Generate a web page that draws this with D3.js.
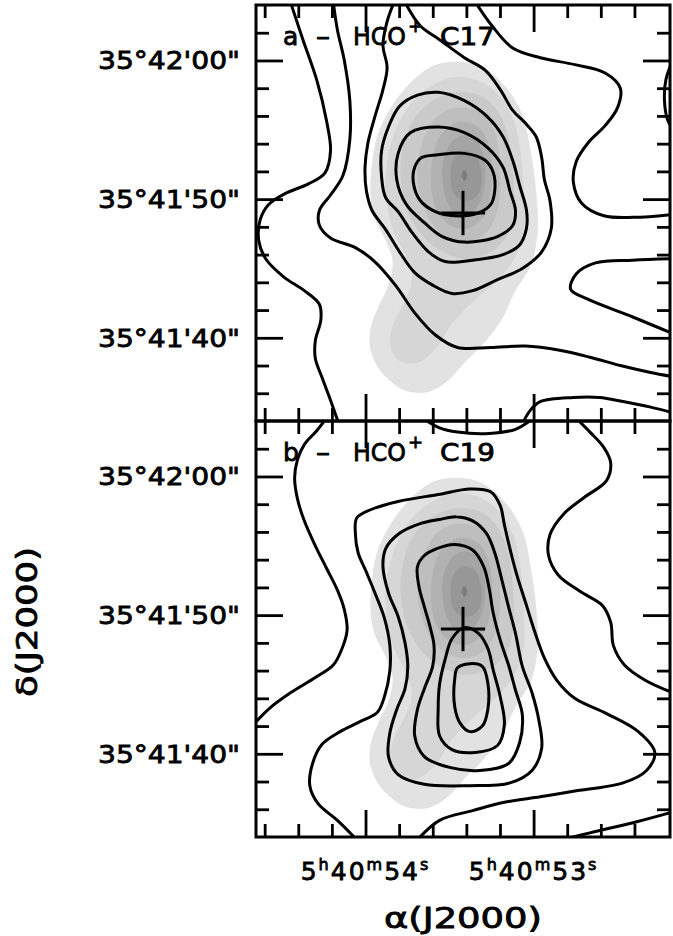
<!DOCTYPE html>
<html>
<head>
<meta charset="utf-8">
<script src="https://cdn.jsdelivr.net/npm/d3@7"></script>
<style>
  body { margin: 0; background: #fff; }
  svg text { font-family: "DejaVu Sans", sans-serif; fill: #000; stroke: #000; stroke-width: 0.8; }
</style>
</head>
<body>
<div id="chart"></div>
<script>
// all map points are arcsec offsets: x east of 5h40m53.42s, y north of 35d41m50s
var raCenterSec = 53.42;
var arcsecPerSec = 12.18;   // 15" * cos(dec)

var raMajor = [54, 53];
var raMinor = [54.6, 54.4, 54.2, 53.8, 53.6, 53.4, 53.2, 52.8, 52.6, 52.4];
var raLabels = [["5", "h", "40", "m", "54", "s"], ["5", "h", "40", "m", "53", "s"]];
var decMajor = [10, 0, -10];
var decMinor = [12, 8, 6, 4, 2, -2, -4, -6, -8, -12, -14];
var decLabels = ["35°42'00\"", "35°41'50\"", "35°41'40\""];
var panelNames = ["a", "b"];
var panelLines = ["C17", "C19"];
var crossPos = [0, -1.0];
var crossArm = 1.6;

// grey image (same in both panels), lowest level first
var greyL1 = [[0.8,9.9],[-1.2,9.6],[-3.0,8.2],[-4.3,6.1],[-4.9,3.5],[-5.3,0.6],[-5.4,-2.5],[-4.9,-4.8],[-3.8,-6.6],[-2.8,-8.7],[-1.5,-10.4],[-0.1,-11.8],[1.1,-13.1],[2.5,-13.9],[4.2,-13.8],[5.9,-12.5],[6.7,-10.9],[6.7,-9.3],[6.2,-7.9],[5.4,-6.2],[5.1,-4.5],[5.6,-3.0],[6.4,-1.4],[6.7,0.3],[6.6,2.5],[6.2,4.6],[5.1,6.8],[3.8,8.4],[2.4,9.5]];
var greyL2 = [[0.6,8.8],[-1.2,8.5],[-2.7,7.4],[-3.7,5.6],[-4.2,3.2],[-4.4,0.3],[-4.4,-2.4],[-3.6,-4.5],[-2.1,-6.2],[-0.5,-7.6],[0.9,-9.1],[1.9,-10.7],[3.3,-11.8],[4.7,-11.6],[5.3,-10.4],[5.0,-8.9],[4.2,-7.3],[3.7,-5.7],[4.2,-4.0],[5.0,-2.4],[5.5,-0.4],[5.6,1.9],[5.1,4.4],[4.0,6.6],[2.4,8.1]];
var greyL3 = [[0.4,7.7],[-1.4,7.4],[-2.6,6.2],[-3.3,4.4],[-3.6,2.1],[-3.7,-0.4],[-3.2,-2.6],[-2.0,-3.8],[-0.3,-4.3],[1.5,-3.8],[2.9,-2.7],[4.0,-0.9],[4.5,1.2],[4.4,3.5],[3.6,5.7],[2.2,7.1]];
var greyL4 = [[0.2,6.6],[-1.2,6.3],[-2.2,5.1],[-2.6,3.4],[-2.7,1.2],[-2.5,-0.8],[-1.7,-2.4],[-0.2,-3.1],[1.3,-2.7],[2.4,-1.5],[3.1,0.2],[3.3,2.5],[2.8,4.5],[1.7,6.1]];
var greyL5 = [[0.1,5.6],[-1.1,5.2],[-1.8,4.1],[-2.1,2.5],[-2.0,0.5],[-1.6,-1.1],[-0.4,-2.1],[0.9,-1.9],[1.9,-0.8],[2.3,0.9],[2.2,3.0],[1.7,4.5],[0.9,5.3]];
var greyL6 = [[-0.1,4.6],[-1.0,4.2],[-1.5,3.0],[-1.6,1.2],[-1.2,-0.3],[-0.3,-1.2],[0.7,-0.9],[1.3,0.3],[1.5,2.1],[1.2,3.5],[0.6,4.3]];
var greyL7 = [[-0.1,3.5],[-0.9,3.2],[-1.3,2.1],[-1.3,0.9],[-0.9,0.1],[-0.1,-0.1],[0.6,0.3],[0.9,1.4],[0.8,2.6],[0.4,3.3]];
var greyPeak = [[-0.1,2.1],[-0.3,1.7],[-0.1,1.3],[0.1,1.7]];

// panel a contours (HCO+ C17)
var a1 = [[12.5,14.2],[11.6,11.5],[10.6,8.6],[9.9,5.7],[9.6,3.5],[10.0,1.9],[11.2,1.1],[12.9,0.4],[14.1,-0.4],[14.7,-1.5],[14.8,-3.0],[14.3,-4.3],[13.0,-5.6],[11.5,-6.6],[10.4,-7.6],[10.3,-8.7],[10.7,-10.2],[10.7,-11.5],[10.2,-12.9],[9.6,-14.5],[9.0,-16.2]];
var a2 = [[9.4,14.2],[9.1,12.2],[8.6,10.0],[8.2,7.1],[8.2,4.3],[8.7,1.7],[9.6,0.3],[10.4,-0.8],[10.4,-1.9],[9.6,-2.8],[7.8,-3.5],[6.4,-4.5],[4.9,-6.2],[3.5,-8.2],[2.0,-9.8],[0.4,-10.7],[-2.0,-10.7],[-4.5,-10.6],[-7.0,-10.9],[-9.2,-11.4],[-11.4,-12.0],[-13.6,-12.5],[-15.2,-12.8]];
var a3 = [[5.0,14.2],[5.5,12.8],[5.8,11.1],[5.5,9.5],[5.8,7.9],[6.4,5.9],[6.9,4.0],[7.1,2.3],[7.0,0.6],[6.6,-0.8],[5.6,-2.2],[4.6,-3.8],[3.5,-5.3],[2.2,-6.2],[0.8,-6.8],[-0.7,-6.6],[-2.5,-5.8],[-4.3,-5.0],[-5.7,-3.8],[-6.4,-2.1],[-6.3,-0.1],[-5.9,1.4],[-5.7,3.0],[-5.3,4.5],[-4.5,5.5],[-3.6,6.4],[-2.7,7.9],[-1.6,9.3],[-0.1,10.2],[1.7,11.5],[3.1,12.5],[4.2,14.2]];
var a4 = [[1.8,7.7],[-0.1,7.1],[-1.7,6.0],[-2.9,4.5],[-3.6,2.8],[-4.1,1.0],[-4.6,-0.8],[-4.6,-2.1],[-4.1,-3.3],[-2.9,-4.0],[-0.7,-4.4],[1.3,-4.5],[2.5,-3.8],[3.7,-2.4],[4.7,-0.9],[5.6,0.1],[5.9,1.6],[5.9,3.5],[5.4,5.2],[4.6,6.7],[3.3,7.5]];
var a5 = [[1.8,5.2],[-0.1,4.8],[-1.8,3.7],[-2.9,2.3],[-3.4,0.6],[-3.8,-0.8],[-3.6,-1.9],[-2.5,-2.7],[-0.1,-3.1],[1.5,-2.7],[2.8,-1.7],[4.1,-0.4],[4.8,1.4],[4.7,3.3],[3.8,4.8]];
var a6 = [[1.8,3.2],[-0.1,3.3],[-1.6,2.8],[-2.2,1.9],[-2.3,0.6],[-2.0,-0.4],[-1.1,-1.0],[0.6,-1.2],[2.0,-0.9],[3.1,-0.1],[3.6,1.2],[3.5,2.3],[3.0,3.0]];
var a7 = [[-0.9,14.2],[-2.1,12.5],[-3.6,10.9],[-5.6,10.2],[-8.1,9.7],[-10.3,9.1],[-11.4,8.0],[-11.2,6.6],[-10.3,5.3],[-9.1,4.1],[-8.2,2.7],[-8.0,1.2],[-8.6,-0.3],[-10.2,-1.2],[-12.8,-1.3],[-15.2,-1.1]];
var a8 = [[-15.2,10.0],[-14.7,8.6],[-14.6,7.1],[-14.8,5.8],[-15.2,5.0]];
var a9 = [[-15.2,-4.3],[-12.3,-4.4],[-9.6,-4.6],[-8.2,-5.4],[-7.8,-6.5],[-9.0,-7.2],[-12.3,-8.5],[-15.2,-9.7]];
var a10 = [[-4.3,-16.2],[-4.9,-15.2],[-5.6,-14.6],[-8.0,-14.3],[-9.9,-14.3],[-11.6,-14.6],[-13.6,-15.0],[-15.2,-15.4]];

// panel b contours (HCO+ C19)
var b1L = [[9.9,14.2],[10.6,13.3],[11.5,12.3],[12.0,11.2],[12.2,9.9],[12.0,8.4],[11.5,6.8],[10.7,5.0],[9.9,3.4],[9.1,1.8],[8.6,0.4],[8.4,-1.1],[8.8,-2.5],[9.4,-3.6],[10.7,-4.5],[12.5,-5.6],[14.0,-6.7],[15.2,-7.9]];
var b1R = [[-8.2,14.2],[-9.2,13.2],[-10.2,12.1],[-10.7,11.0],[-10.4,9.7],[-8.8,8.5],[-7.3,7.3],[-6.3,5.8],[-6.2,4.3],[-6.9,2.9],[-8.5,1.7],[-10.1,0.7],[-10.7,-0.5],[-10.9,-2.2],[-11.7,-3.6],[-13.2,-4.7],[-15.2,-5.6]];
var b1arc = [[2.9,14.2],[1.7,13.5],[0.4,13.2],[-1.9,13.1],[-3.8,13.4],[-5.1,14.2]];
var b2 = [[7.7,-16.2],[9.1,-14.8],[10.5,-13.6],[11.1,-12.3],[10.9,-10.7],[10.2,-9.3],[8.9,-8.4],[7.5,-7.7],[6.2,-7.0],[5.7,-5.9],[5.3,-4.0],[5.3,-2.2],[5.7,-0.2],[6.3,1.4],[7.0,3.1],[7.6,4.5],[7.8,5.9],[7.7,7.0],[6.7,7.6],[4.7,8.2],[1.8,8.7],[-0.5,9.1],[-2.0,8.9],[-2.7,7.9],[-3.0,6.5],[-3.4,4.8],[-3.9,2.9],[-4.6,0.7],[-5.2,-1.2],[-5.9,-3.1],[-6.8,-4.7],[-8.1,-6.0],[-10.4,-7.1],[-12.7,-8.4],[-13.9,-9.9],[-13.3,-11.2],[-11.6,-12.1],[-8.0,-12.7],[-5.6,-13.1],[-3.0,-13.5],[-0.7,-14.1],[1.7,-14.8],[3.3,-16.2]];
var b3 = [[1.7,6.9],[0.5,7.1],[-0.7,6.8],[-1.7,5.9],[-2.3,4.5],[-2.8,2.6],[-3.3,0.6],[-3.8,-1.3],[-4.3,-3.7],[-5.0,-5.6],[-5.5,-7.6],[-5.7,-9.6],[-5.0,-11.2],[-3.4,-12.1],[-0.5,-12.3],[2.8,-12.2],[4.7,-11.5],[5.4,-10.2],[5.3,-8.5],[4.8,-6.8],[4.2,-5.3],[4.0,-3.7],[4.2,-2.0],[4.7,-0.1],[5.4,1.6],[5.8,3.5],[5.6,4.8],[4.6,5.9],[3.1,6.6]];
var b4 = [[0.6,5.1],[-0.7,4.7],[-1.5,3.5],[-1.9,1.9],[-2.2,0.1],[-2.7,-1.8],[-3.3,-3.6],[-3.8,-5.4],[-4.3,-7.2],[-4.1,-9.2],[-3.3,-10.7],[-1.2,-11.2],[0.9,-11.0],[2.8,-10.2],[3.5,-8.7],[3.3,-6.8],[2.8,-5.3],[2.2,-3.7],[2.1,-2.2],[2.4,-0.8],[2.8,0.6],[3.2,2.1],[3.3,3.5],[2.8,4.3],[1.9,4.8]];
var b5 = [[-0.1,-0.9],[-1.1,-1.3],[-1.8,-2.4],[-2.2,-4.0],[-2.7,-5.9],[-3.0,-7.9],[-2.5,-9.4],[-0.9,-9.9],[0.8,-9.7],[1.7,-8.7],[1.8,-6.8],[1.7,-5.0],[1.3,-3.2],[0.8,-1.7]];
var b6 = [[-0.5,-3.5],[-1.4,-3.7],[-1.8,-4.9],[-1.8,-6.8],[-1.4,-8.0],[-0.5,-8.4],[0.2,-7.8],[0.6,-6.6],[0.6,-4.6],[0.4,-3.8]];
var b7 = [[-7.2,-16.2],[-9.2,-15.7],[-12.6,-14.9],[-15.2,-14.2]];

var greyLevels = [greyL1, greyL2, greyL3, greyL4, greyL5, greyL6, greyL7, greyPeak];
var openContours = [[a1, a2, a3, a7, a8, a9, a10], [b1L, b1R, b1arc, b2, b7]];
var closedContours = [[a4, a5, a6], [b3, b4, b5, b6]];

// styles
var greyShades = ["#e2e2e2", "#d6d6d6", "#cacaca", "#bebebe", "#b1b1b1", "#a4a4a4", "#979797", "#7c7c7c"];

var width = 673, height = 936;
var margin = {left: 256, top: 5};
var plotW = 414, plotH = 416;

var svg = d3.select("#chart").append("svg")
    .attr("width", width)
    .attr("height", height);

var x = d3.scaleLinear().domain([15, -15]).range([margin.left, margin.left + plotW]);
var xRA = d3.scaleLinear()
    .domain([raCenterSec + 15 / arcsecPerSec, raCenterSec - 15 / arcsecPerSec])
    .range(x.range());

panelNames.forEach(function(name, i){
    var top = margin.top + i * plotH;
    var y = d3.scaleLinear().domain([-16, 14]).range([top + plotH, top]);

    var openLine = d3.line()
        .x(function(d){ return x(d[0]); })
        .y(function(d){ return y(d[1]); })
        .curve(d3.curveCatmullRom.alpha(0.5));
    var closedLine = d3.line()
        .x(function(d){ return x(d[0]); })
        .y(function(d){ return y(d[1]); })
        .curve(d3.curveCatmullRomClosed.alpha(0.5));

    svg.append("clipPath").attr("id", "clip-" + name)
      .append("rect")
        .attr("x", margin.left).attr("y", top)
        .attr("width", plotW).attr("height", plotH);

    var g = svg.append("g").attr("clip-path", "url(#clip-" + name + ")");

    g.selectAll(".grey")
        .data(greyLevels)
        .enter().append("path")
        .attr("class", "grey")
        .attr("d", closedLine)
        .attr("fill", function(d, k){ return greyShades[k]; });

    g.selectAll(".copen")
        .data(openContours[i])
        .enter().append("path")
        .attr("class", "copen")
        .attr("d", openLine)
        .attr("fill", "none").attr("stroke", "#000")
        .attr("stroke-width", 3).attr("stroke-linejoin", "round");

    g.selectAll(".cclosed")
        .data(closedContours[i])
        .enter().append("path")
        .attr("class", "cclosed")
        .attr("d", closedLine)
        .attr("fill", "none").attr("stroke", "#000")
        .attr("stroke-width", 3).attr("stroke-linejoin", "round");

    // cross
    g.append("line")
        .attr("x1", x(crossPos[0] + crossArm)).attr("x2", x(crossPos[0] - crossArm))
        .attr("y1", y(crossPos[1])).attr("y2", y(crossPos[1]))
        .attr("stroke", "#000").attr("stroke-width", 3);
    g.append("line")
        .attr("x1", x(crossPos[0])).attr("x2", x(crossPos[0]))
        .attr("y1", y(crossPos[1] + crossArm)).attr("y2", y(crossPos[1] - crossArm))
        .attr("stroke", "#000").attr("stroke-width", 3);

    // inward ticks on all four sides
    function ticks(axisFn, scale, values, size, tx, ty){
        svg.append("g")
            .attr("transform", "translate(" + tx + "," + ty + ")")
            .call(axisFn(scale).tickValues(values).tickSize(-size).tickFormat(""))
            .call(function(s){
                s.select(".domain").remove();
                s.selectAll(".tick line").attr("stroke", "#000").attr("stroke-width", 2.8);
            });
    }
    ticks(d3.axisBottom, xRA, raMinor, 13, 0, top + plotH);
    ticks(d3.axisBottom, xRA, raMajor, 27, 0, top + plotH);
    ticks(d3.axisTop, xRA, raMinor, 13, 0, top);
    ticks(d3.axisTop, xRA, raMajor, 27, 0, top);
    ticks(d3.axisLeft, y, decMinor, 13, margin.left, 0);
    ticks(d3.axisLeft, y, decMajor, 27, margin.left, 0);
    ticks(d3.axisRight, y, decMinor, 13, margin.left + plotW, 0);
    ticks(d3.axisRight, y, decMajor, 27, margin.left + plotW, 0);

    // dec labels
    svg.selectAll(".declab-" + name)
        .data(decMajor)
        .enter().append("text")
        .attr("class", "declab-" + name)
        .attr("x", margin.left - 158)
        .attr("y", function(d){ return y(d) + 9; })
        .attr("font-size", 25)
        .attr("textLength", 142)
        .attr("lengthAdjust", "spacingAndGlyphs")
        .text(function(d, k){ return decLabels[k]; });

    // panel label
    var lab = svg.append("g").attr("transform", "translate(" + margin.left + "," + (top + 40) + ")");
    lab.append("text").attr("x", 27).attr("font-size", 25).text(name);
    lab.append("text").attr("x", 60).attr("font-size", 25)
        .attr("textLength", 14).attr("lengthAdjust", "spacingAndGlyphs").text("–");
    lab.append("text").attr("x", 97).attr("font-size", 25)
        .attr("textLength", 53).attr("lengthAdjust", "spacingAndGlyphs").text("HCO");
    lab.append("text").attr("x", 152).attr("y", -13).attr("font-size", 18).text("+");
    lab.append("text").attr("x", 184).attr("font-size", 25)
        .attr("textLength", 55).attr("lengthAdjust", "spacingAndGlyphs").text(panelLines[i]);

    // frame
    svg.append("rect")
        .attr("x", margin.left).attr("y", top)
        .attr("width", plotW).attr("height", plotH)
        .attr("fill", "none").attr("stroke", "#000").attr("stroke-width", 3);
});

// RA labels under the lower panel
var bottom = margin.top + 2 * plotH;
raMajor.forEach(function(v, k){
    var parts = raLabels[k];
    var t = svg.append("text")
        .attr("x", xRA(v))
        .attr("y", bottom + 43)
        .attr("text-anchor", "middle")
        .attr("font-size", 25)
        .attr("letter-spacing", 2);
    parts.forEach(function(p, j){
        var sup = (j % 2 == 1);
        t.append("tspan")
            .attr("font-size", sup ? 16 : 25)
            .attr("dy", sup ? -10 : (j > 0 ? 10 : 0))
            .text(p);
    });
});

svg.append("text")
    .attr("x", x(0))
    .attr("y", bottom + 91)
    .attr("text-anchor", "middle")
    .attr("font-size", 28)
    .attr("textLength", 158)
    .attr("lengthAdjust", "spacingAndGlyphs")
    .text("α(J2000)");

svg.append("text")
    .attr("transform", "translate(37,622) rotate(-90)")
    .attr("text-anchor", "middle")
    .attr("font-size", 28)
    .attr("textLength", 150)
    .attr("lengthAdjust", "spacingAndGlyphs")
    .text("δ(J2000)");
</script>
</body>
</html>
